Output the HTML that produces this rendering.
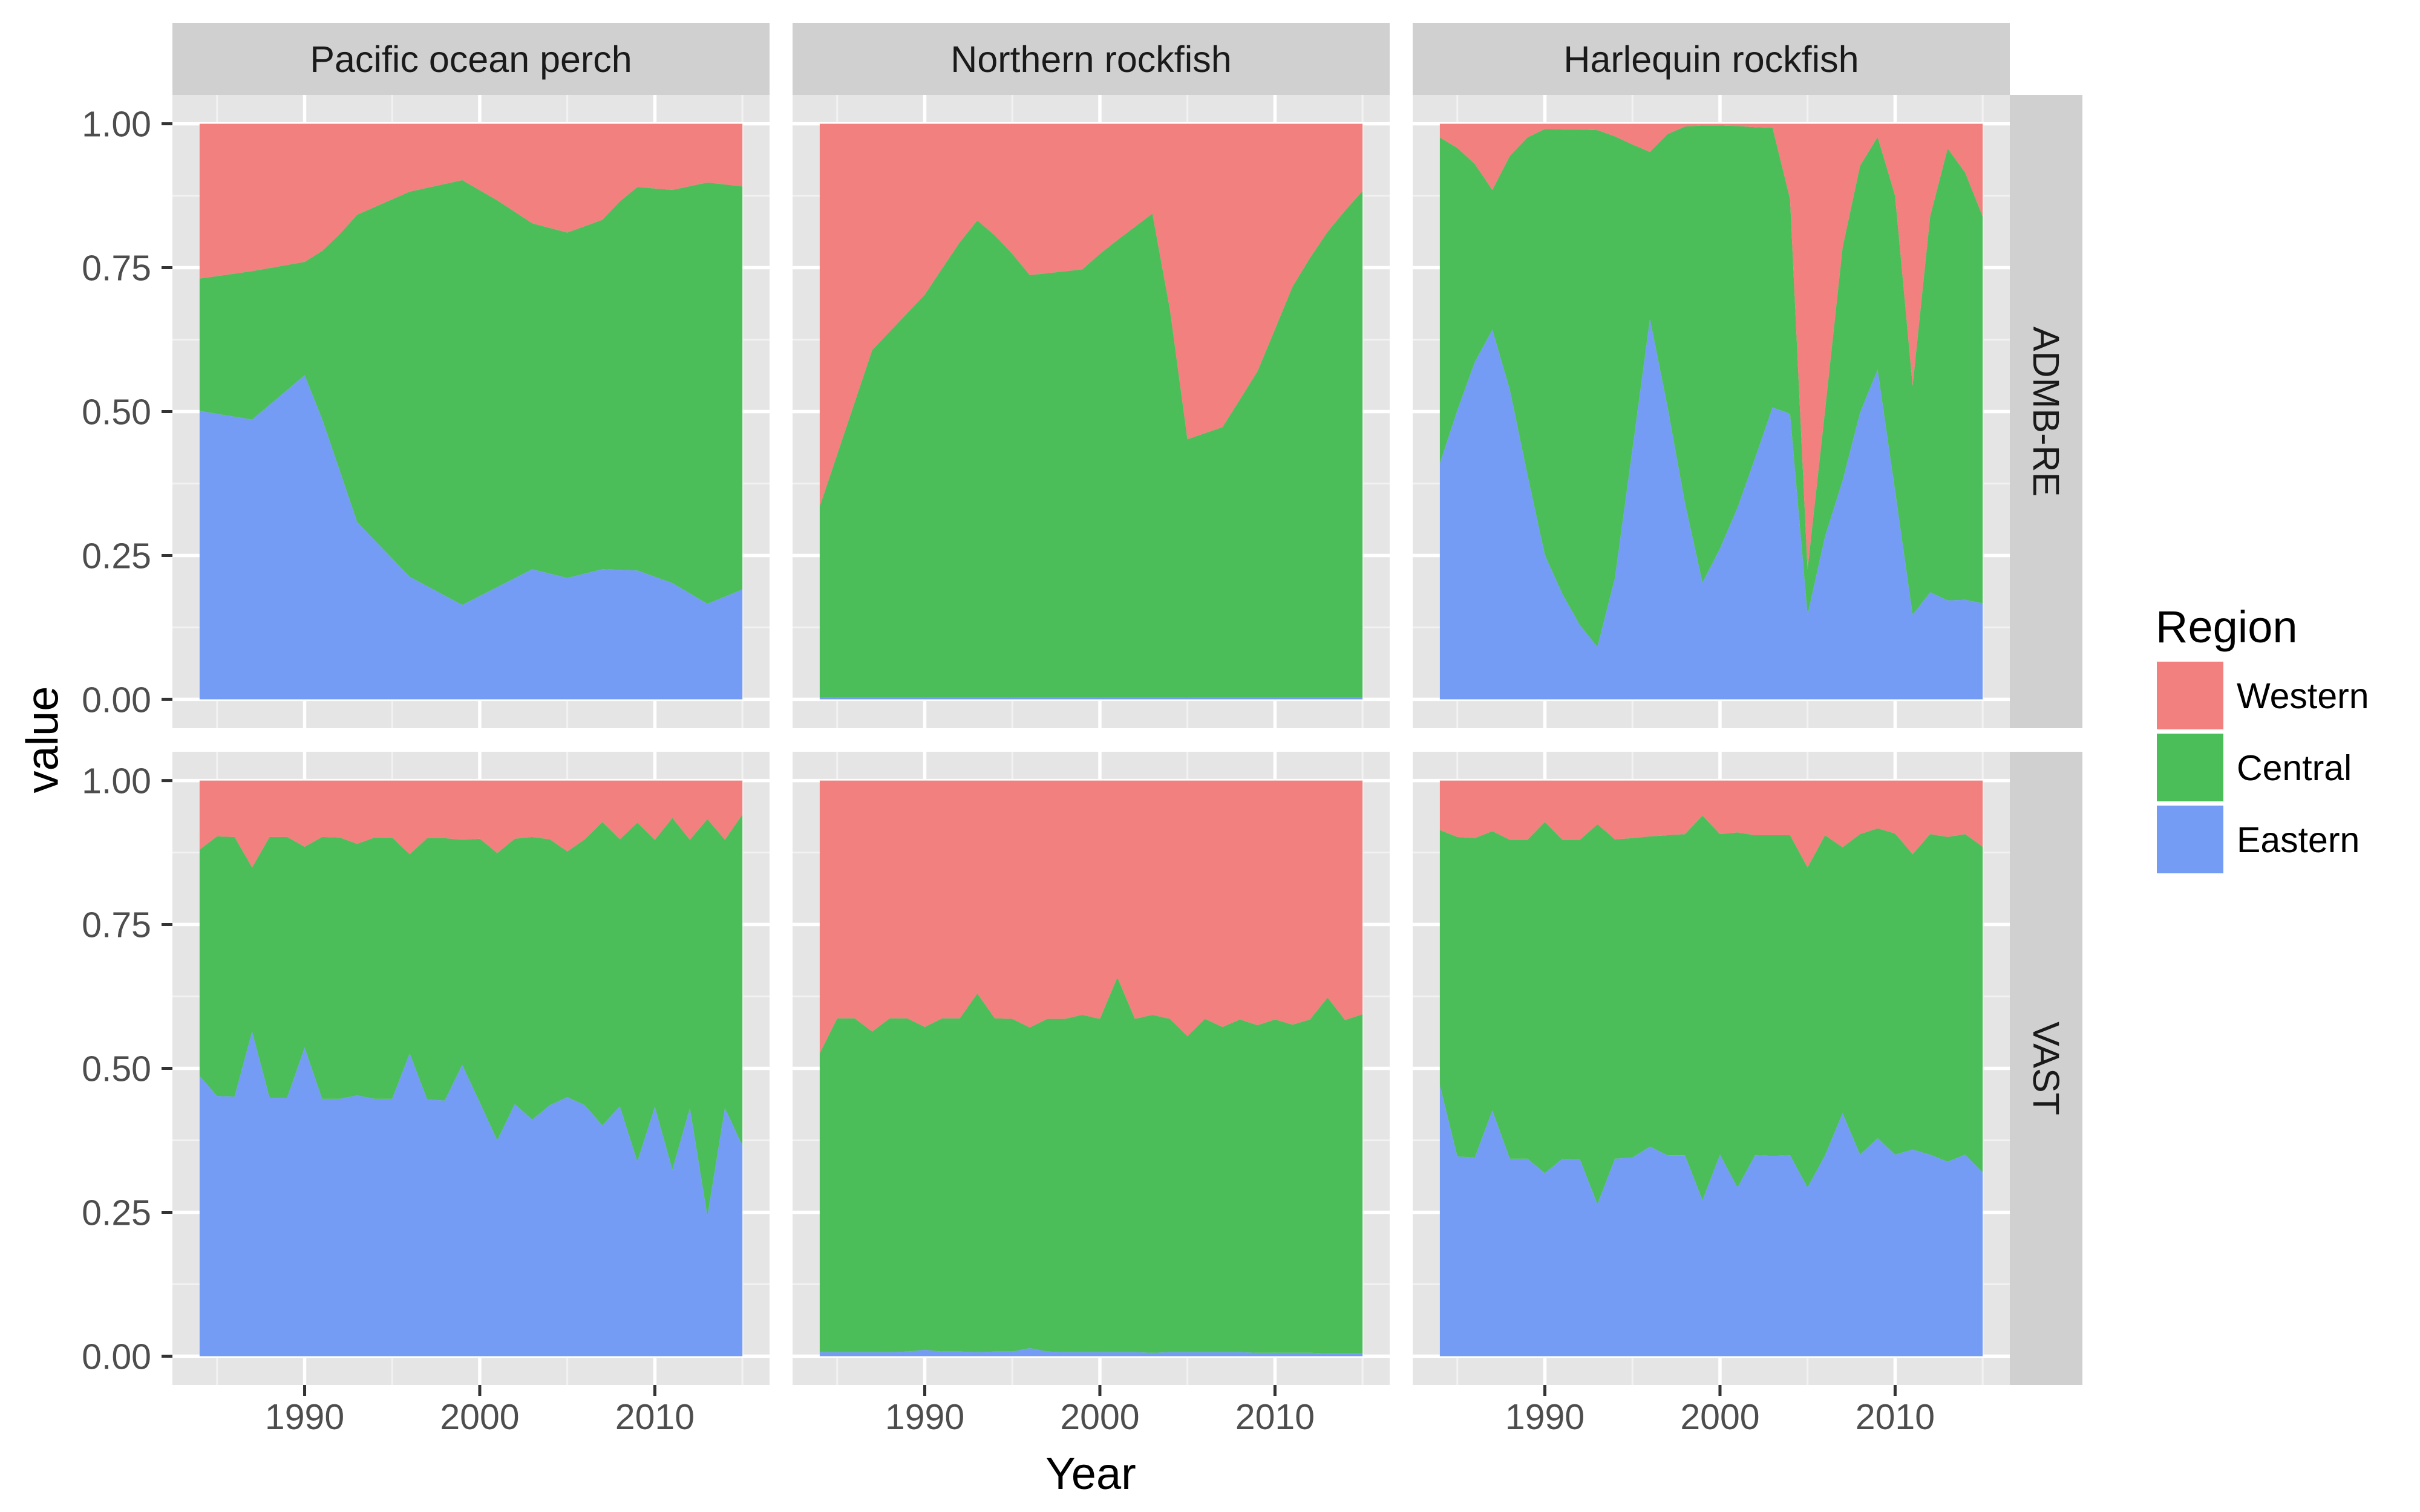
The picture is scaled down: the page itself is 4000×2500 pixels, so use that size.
<!DOCTYPE html>
<html><head><meta charset="utf-8"><style>
html,body{margin:0;padding:0;background:#fff;}
svg{display:block;font-family:"Liberation Sans",Arial,sans-serif;}
</style></head><body>
<svg id="chart" width="4000" height="2500" viewBox="0 0 4000 2500" xmlns="http://www.w3.org/2000/svg">
<rect width="4000" height="2500" fill="#ffffff"/>
<g id="root"></g>
</svg>
<script>
const speciesNames = ["Pacific ocean perch","Northern rockfish","Harlequin rockfish"];
const modelNames = ["ADMB-RE","VAST"];
const regionNames = ["Western","Central","Eastern"];
const yTicks = [0,0.25,0.5,0.75,1];
const yTickLabels = ["0.00","0.25","0.50","0.75","1.00"];
const xTicks = [1990,2000,2010];
const xTickLabels = ["1990","2000","2010"];

const yearsAll = [1984,1985,1986,1987,1988,1989,1990,1991,1992,1993,1994,1995,1996,1997,1998,1999,2000,2001,2002,2003,2004,2005,2006,2007,2008,2009,2010,2011,2012,2013,2014,2015];

const popAdmbYears = [1984,1987,1990,1991,1992,1993,1996,1999,2001,2003,2005,2007,2008,2009,2011,2013,2015];
const popAdmbEastern = [.501,.486,.563,.487,.398,.308,.213,.164,.195,.226,.211,.226,.225,.224,.202,.166,.191];
const popAdmbCentral = [.230,.258,.197,.292,.410,.534,.669,.738,.672,.601,.600,.607,.640,.666,.683,.732,.700];
const popAdmbWestern = [.269,.256,.240,.221,.192,.158,.118,.098,.133,.173,.189,.167,.135,.110,.115,.102,.109];

const nrAdmbYears = [1984,1987,1990,1991,1992,1993,1994,1995,1996,1999,2000,2001,2002,2003,2004,2005,2007,2008,2009,2010,2011,2012,2013,2014,2015];
const nrAdmbEastern = [.003,.003,.003,.003,.003,.003,.003,.003,.003,.003,.003,.003,.003,.003,.003,.003,.003,.003,.003,.003,.003,.003,.003,.003,.003];
const nrAdmbCentral = [.332,.604,.700,.746,.791,.829,.803,.771,.734,.744,.771,.795,.818,.841,.674,.449,.470,.518,.567,.640,.714,.764,.809,.846,.880];
const nrAdmbWestern = [.665,.393,.297,.251,.206,.168,.194,.226,.263,.253,.226,.202,.179,.156,.323,.548,.527,.479,.430,.357,.283,.233,.188,.151,.117];

const hrAdmbEastern = [.410,.502,.586,.642,.538,.391,.251,.183,.129,.091,.211,.434,.661,.509,.341,.203,.262,.333,.419,.507,.496,.147,.283,.380,.498,.573,.362,.147,.186,.172,.173,.167];
const hrAdmbCentral = [.566,.456,.344,.243,.406,.585,.740,.807,.861,.898,.767,.530,.290,.473,.654,.794,.735,.663,.575,.486,.373,.079,.219,.405,.429,.404,.513,.398,.653,.785,.742,.672];
const hrAdmbWestern = [.024,.042,.070,.115,.056,.024,.009,.010,.010,.011,.022,.036,.049,.018,.005,.003,.003,.004,.006,.007,.131,.774,.498,.215,.073,.023,.125,.455,.161,.043,.085,.161];

const popVastEastern = [.487,.452,.451,.564,.449,.449,.536,.447,.447,.453,.447,.447,.526,.446,.444,.506,.441,.375,.438,.411,.436,.450,.436,.401,.434,.338,.433,.324,.431,.243,.431,.366];
const popVastCentral = [.393,.451,.451,.285,.453,.453,.349,.455,.454,.437,.454,.454,.346,.454,.456,.391,.458,.499,.461,.491,.462,.427,.462,.527,.464,.589,.464,.611,.466,.690,.466,.575];
const popVastWestern = [.120,.097,.098,.151,.098,.098,.115,.098,.099,.110,.099,.099,.128,.100,.100,.103,.101,.126,.101,.098,.102,.123,.102,.072,.102,.073,.103,.065,.103,.067,.103,.059];

const nrVastEastern = [.007,.007,.007,.007,.007,.008,.011,.008,.008,.007,.008,.008,.014,.008,.007,.007,.007,.007,.007,.006,.007,.007,.007,.007,.007,.006,.006,.006,.006,.005,.005,.005];
const nrVastCentral = [.519,.580,.580,.557,.580,.579,.561,.579,.579,.623,.579,.578,.557,.578,.579,.586,.579,.651,.579,.587,.579,.549,.579,.565,.578,.569,.579,.570,.579,.618,.579,.589];
const nrVastWestern = [.474,.413,.413,.436,.413,.413,.428,.413,.413,.370,.413,.414,.429,.414,.414,.407,.414,.342,.414,.407,.414,.444,.414,.428,.415,.425,.415,.424,.415,.377,.416,.406];

const hrVastEastern = [.471,.347,.345,.427,.343,.343,.318,.343,.342,.264,.343,.345,.364,.349,.349,.271,.350,.293,.349,.348,.349,.293,.349,.422,.350,.379,.350,.359,.350,.338,.350,.319];
const hrVastCentral = [.443,.555,.555,.485,.554,.554,.610,.554,.555,.660,.555,.555,.539,.556,.558,.668,.557,.617,.556,.557,.556,.556,.556,.462,.557,.538,.558,.513,.557,.564,.557,.566];
const hrVastWestern = [.086,.098,.100,.088,.103,.103,.072,.103,.103,.076,.102,.100,.097,.095,.093,.061,.093,.090,.095,.095,.095,.151,.095,.116,.093,.083,.092,.128,.093,.098,.093,.115];

const panels = [
  {row:0,col:0,years:popAdmbYears,e:popAdmbEastern,c:popAdmbCentral,w:popAdmbWestern},
  {row:0,col:1,years:nrAdmbYears,e:nrAdmbEastern,c:nrAdmbCentral,w:nrAdmbWestern},
  {row:0,col:2,years:yearsAll,e:hrAdmbEastern,c:hrAdmbCentral,w:hrAdmbWestern},
  {row:1,col:0,years:yearsAll,e:popVastEastern,c:popVastCentral,w:popVastWestern},
  {row:1,col:1,years:yearsAll,e:nrVastEastern,c:nrVastCentral,w:nrVastWestern},
  {row:1,col:2,years:yearsAll,e:hrVastEastern,c:hrVastCentral,w:hrVastWestern}
];

const NS="http://www.w3.org/2000/svg";
const root=document.getElementById('root');
function mk(tag,attrs,parent){const el=document.createElementNS(NS,tag);for(const k in attrs)el.setAttribute(k,attrs[k]);(parent||root).appendChild(el);return el;}

const colLeft=[285,1310,2335], panelW=987;
const rowTop=[157,1243], panelH=1047;
const X0=1984, X1=2015;
const FILL={Western:"#f1807e",Central:"#4bbe59",Eastern:"#759cf5"};
function xs(col,yr){const l=colLeft[col]+panelW*0.04545;const r=colLeft[col]+panelW*(1-0.04545);return l+(yr-X0)/(X1-X0)*(r-l);}
function ys(row,v){const t=rowTop[row]+panelH*0.04545;const b=rowTop[row]+panelH*(1-0.04545);return b-v*(b-t);}

for(let r=0;r<2;r++)for(let c=0;c<3;c++){
  const g=mk('g',{});
  
  
  mk('rect',{x:colLeft[c],y:rowTop[r],width:panelW,height:panelH,fill:'#e5e5e5'},g);
  for(let i=0;i<yTicks.length-1;i++){const v=(yTicks[i]+yTicks[i+1])/2;const y=ys(r,v);mk('line',{x1:colLeft[c],x2:colLeft[c]+panelW,y1:y,y2:y,stroke:'#f2f2f2','stroke-width':3},g);}
  [1985,1995,2005,2015].forEach(yr=>{const x=xs(c,yr);mk('line',{x1:x,x2:x,y1:rowTop[r],y2:rowTop[r]+panelH,stroke:'#f2f2f2','stroke-width':3},g);});
  yTicks.forEach(v=>{const y=ys(r,v);mk('line',{x1:colLeft[c],x2:colLeft[c]+panelW,y1:y,y2:y,stroke:'#ffffff','stroke-width':5.5},g);});
  xTicks.forEach(yr=>{const x=xs(c,yr);mk('line',{x1:x,x2:x,y1:rowTop[r],y2:rowTop[r]+panelH,stroke:'#ffffff','stroke-width':5.5},g);});
}

panels.forEach(p=>{
  const g=mk('g',{});
  
  
  const n=p.years.length;
  const cumE=[],cumC=[],cumW=[];
  for(let i=0;i<n;i++){cumE.push(p.e[i]);cumC.push(p.e[i]+p.c[i]);cumW.push(p.e[i]+p.c[i]+p.w[i]);}
  const layers=[["Eastern",null,cumE],["Central",cumE,cumC],["Western",cumC,cumW]];
  layers.forEach(([name,lo,hi])=>{
    let pts=[];
    for(let i=0;i<n;i++)pts.push(xs(p.col,p.years[i]).toFixed(1)+','+ys(p.row,hi[i]).toFixed(1));
    for(let i=n-1;i>=0;i--)pts.push(xs(p.col,p.years[i]).toFixed(1)+','+ys(p.row,lo?lo[i]:0).toFixed(1));
    const poly=mk('polygon',{points:pts.join(' '),fill:FILL[name]},g);
    
    
  });
});

speciesNames.forEach((s,c)=>{
  const g=mk('g',{});
  
  
  mk('rect',{x:colLeft[c],y:38,width:panelW,height:119,fill:'#d0d0d0'},g);
  const t=mk('text',{x:colLeft[c]+panelW/2,y:119,'text-anchor':'middle','font-size':61,fill:'#1a1a1a'},g);
  t.textContent=s;
});
modelNames.forEach((m,r)=>{
  const g=mk('g',{});
  
  
  mk('rect',{x:3322,y:rowTop[r],width:120,height:panelH,fill:'#d0d0d0'},g);
  const cx=3382,cy=rowTop[r]+panelH/2;
  const t=mk('text',{x:cx,y:cy,'text-anchor':'middle','dominant-baseline':'central','font-size':61,fill:'#1a1a1a',transform:`rotate(90 ${cx} ${cy})`},g);
  t.textContent=m;
});

for(let r=0;r<2;r++){
  const g=mk('g',{});
  
  
  yTicks.forEach((v,i)=>{
    const y=ys(r,v);
    mk('line',{x1:267,x2:285,y1:y,y2:y,stroke:'#333333','stroke-width':5},g);
    const t=mk('text',{x:250,y:y+21,'text-anchor':'end','font-size':59,fill:'#4d4d4d'},g);
    t.textContent=yTickLabels[i];
  });
}
for(let c=0;c<3;c++){
  const g=mk('g',{});
  
  
  const yb=rowTop[1]+panelH;
  xTicks.forEach((yr,i)=>{
    const x=xs(c,yr);
    mk('line',{x1:x,x2:x,y1:yb,y2:yb+18,stroke:'#333333','stroke-width':5},g);
    const t=mk('text',{x:x,y:2363,'text-anchor':'middle','font-size':59,fill:'#4d4d4d'},g);
    t.textContent=xTickLabels[i];
  });
}
const xt=mk('text',{x:1803,y:2462,'text-anchor':'middle','font-size':74,fill:'#000'});


xt.textContent='Year';
const yt=mk('text',{x:70,y:1223,'text-anchor':'middle','font-size':74,fill:'#000',transform:'rotate(-90 70 1223)'});


yt.setAttribute('dominant-baseline','central');
yt.textContent='value';

const lg=mk('g',{});


const lt=mk('text',{x:3563,y:1062,'font-size':74,fill:'#000'},lg);


lt.textContent='Region';
regionNames.forEach((name,i)=>{
  const y0=1094+i*119;
  const e=mk('g',{},lg);
  
  
  mk('rect',{x:3565,y:y0,width:110,height:112,fill:FILL[name]},e);
  const t=mk('text',{x:3697,y:y0+56+21,'font-size':59,fill:'#000'},e);
  t.textContent=name;
});
</script>
</body></html>
